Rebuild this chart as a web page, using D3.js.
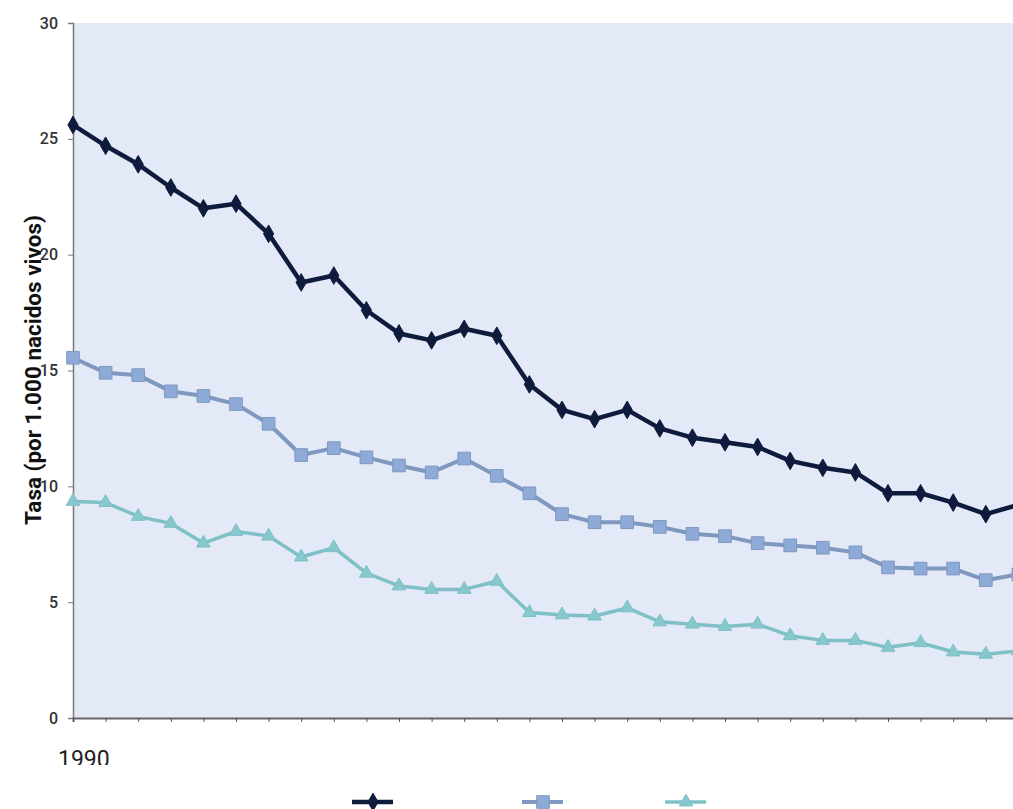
<!DOCTYPE html>
<html>
<head>
<meta charset="utf-8"/>
<script src="https://d3js.org/d3.v7.min.js"></script>
<style>
	body{ margin:0; background:#fff; }
	svg{ display:block; }
	.tick text{ font-family:Roboto, sans-serif; font-weight:500; fill:#333; }
</style>
</head>
<body>
<script>
var years = d3.range(1990, 2020);
var serieTotal   = [25.6,24.7,23.9,22.9,22.0,22.2,20.9,18.8,19.1,17.6,16.6,16.3,16.8,16.5,14.4,13.3,12.9,13.3,12.5,12.1,11.9,11.7,11.1,10.8,10.6,9.7,9.7,9.3,8.8,9.2];
var serieMedia   = [15.55,14.9,14.8,14.1,13.9,13.55,12.7,11.35,11.65,11.25,10.9,10.6,11.2,10.45,9.7,8.8,8.45,8.45,8.25,7.95,7.85,7.55,7.45,7.35,7.15,6.5,6.45,6.45,5.95,6.2];
var serieBaja    = [9.35,9.3,8.7,8.4,7.55,8.05,7.85,6.95,7.35,6.25,5.7,5.55,5.55,5.9,4.55,4.45,4.4,4.75,4.15,4.05,3.95,4.05,3.55,3.35,3.35,3.05,3.25,2.85,2.75,2.9];
var yTicks = [0,5,10,15,20,25,30];

var W = 1013, H = 809;
var mLeft = 73, mTop = 23, mBottom = 718;

var svg = d3.select('body').append('svg')
	.attr('width', W)
	.attr('height', H);

var x = d3.scalePoint().domain(years).range([mLeft, mLeft + 29*32.6]);
var y = d3.scaleLinear().domain([0,30]).range([mBottom, mTop]);

var defs = svg.append('defs');
defs.append('clipPath').attr('id','plot')
	.append('rect').attr('x', mLeft-8).attr('y', 0).attr('width', W).attr('height', mBottom+2);
defs.append('clipPath').attr('id','cut1990')
	.append('rect').attr('x', 0).attr('y', 0).attr('width', W).attr('height', 765);

// fondo del área de trazado
svg.append('rect')
	.attr('x', mLeft).attr('y', mTop)
	.attr('width', W - mLeft).attr('height', mBottom - mTop)
	.attr('fill', '#e3e9f6');

// eje Y
var yAxis = svg.append('g')
	.attr('transform', 'translate(' + mLeft + ',0)')
	.call(d3.axisLeft(y).tickValues(yTicks).tickSize(5).tickPadding(10));
yAxis.select('.domain').attr('stroke', '#7a7a7a').attr('stroke-width', 1.5);
yAxis.selectAll('.tick line').attr('stroke', '#7a7a7a');
yAxis.selectAll('.tick text').attr('font-size', 16);

// eje X
var xAxis = svg.append('g')
	.attr('transform', 'translate(0,' + mBottom + ')')
	.call(d3.axisBottom(x).tickSize(4).tickFormat(''));
xAxis.select('.domain').attr('stroke', '#666').attr('stroke-width', 2);
xAxis.selectAll('.tick line').attr('stroke', '#555');

svg.append('text')
	.attr('x', 58).attr('y', 767)
	.attr('clip-path', 'url(#cut1990)')
	.attr('font-family', 'Roboto, sans-serif')
	.attr('font-size', 23)
	.attr('fill', '#222')
	.text(years[0]);

// título eje Y
svg.append('text')
	.attr('transform', 'translate(41,370) rotate(-90)')
	.attr('text-anchor', 'middle')
	.attr('font-family', 'Roboto, sans-serif')
	.attr('font-weight', 700)
	.attr('font-size', 22.5)
	.attr('fill', '#111')
	.text('Tasa (por 1.000 nacidos vivos)');

var series = [
	{data: serieTotal, line: '#0f1b3c', fill: '#0f1b3c', width: 4.5, shape: d3.symbolDiamond, size: 90},
	{data: serieMedia, line: '#7f98c0', fill: '#8eaad6', width: 4, shape: d3.symbolSquare, size: 160},
	{data: serieBaja,  line: '#7ec0c6', fill: '#86c8cc', width: 3.5, shape: d3.symbolTriangle, size: 80}
];

var line = d3.line()
	.x(function(d, i){ return x(years[i]); })
	.y(function(d){ return y(d); });

var plot = svg.append('g').attr('clip-path', 'url(#plot)');

series.forEach(function(s){
	plot.append('path')
		.attr('d', line(s.data))
		.attr('fill', 'none')
		.attr('stroke', s.line)
		.attr('stroke-width', s.width)
		.attr('stroke-linejoin', 'round');
	plot.selectAll(null).data(s.data)
		.enter().append('path')
		.attr('d', d3.symbol().type(s.shape).size(s.size))
		.attr('transform', function(d, i){ return 'translate(' + x(years[i]) + ',' + y(d) + ')'; })
		.attr('fill', s.fill)
		.attr('stroke', s.line)
		.attr('stroke-width', 1);
});

// leyenda (cortada por el borde inferior)
var legendX = [352, 522, 665];
series.forEach(function(s, i){
	var g = svg.append('g').attr('transform', 'translate(' + legendX[i] + ',802)');
	g.append('line')
		.attr('x1', 0).attr('x2', 41)
		.attr('stroke', s.line).attr('stroke-width', s.width);
	g.append('path')
		.attr('d', d3.symbol().type(s.shape).size(s.size))
		.attr('transform', 'translate(21,0)')
		.attr('fill', s.fill).attr('stroke', s.line);
});
</script>
</body>
</html>
